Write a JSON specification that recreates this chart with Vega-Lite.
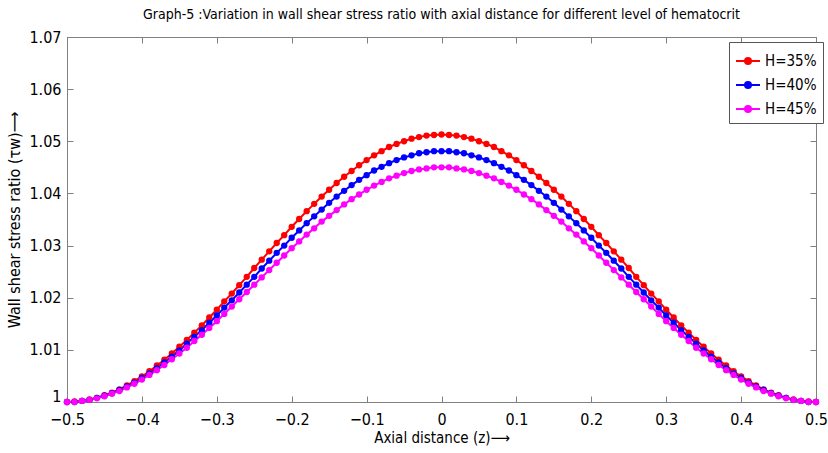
{
"$schema": "https://vega.github.io/schema/vega-lite/v6.json",
"width": 749, "height": 365,
"autosize": {"type": "none"},
"padding": {"left": 67, "top": 37, "right": 12, "bottom": 51},
"background": "white",
"config": {"font": "Liberation Sans Narrow, DejaVu Sans Condensed, sans-serif", "view": {"stroke": "#808080", "strokeWidth": 1}},
"title": {"text": "Graph-5 :Variation in wall shear stress ratio with axial distance for different level of hematocrit", "fontSize": 14, "fontWeight": "normal", "anchor": "middle", "offset": 7, "color": "black"},
"data": {"values": [
{"z":-0.5,"H=35%":1.0000,"H=40%":1.0000,"H=45%":1.0000},
{"z":-0.49,"H=35%":1.0001,"H=40%":1.0000,"H=45%":1.0000},
{"z":-0.48,"H=35%":1.0002,"H=40%":1.0002,"H=45%":1.0002},
{"z":-0.47,"H=35%":1.0005,"H=40%":1.0004,"H=45%":1.0004},
{"z":-0.46,"H=35%":1.0008,"H=40%":1.0008,"H=45%":1.0007},
{"z":-0.45,"H=35%":1.0013,"H=40%":1.0012,"H=45%":1.0011},
{"z":-0.44,"H=35%":1.0018,"H=40%":1.0017,"H=45%":1.0016},
{"z":-0.43,"H=35%":1.0024,"H=40%":1.0023,"H=45%":1.0021},
{"z":-0.42,"H=35%":1.0032,"H=40%":1.0030,"H=45%":1.0028},
{"z":-0.41,"H=35%":1.0040,"H=40%":1.0037,"H=45%":1.0035},
{"z":-0.40,"H=35%":1.0049,"H=40%":1.0046,"H=45%":1.0043},
{"z":-0.39,"H=35%":1.0059,"H=40%":1.0055,"H=45%":1.0052},
{"z":-0.38,"H=35%":1.0070,"H=40%":1.0065,"H=45%":1.0061},
{"z":-0.37,"H=35%":1.0081,"H=40%":1.0076,"H=45%":1.0071},
{"z":-0.36,"H=35%":1.0093,"H=40%":1.0087,"H=45%":1.0082},
{"z":-0.35,"H=35%":1.0106,"H=40%":1.0099,"H=45%":1.0093},
{"z":-0.34,"H=35%":1.0119,"H=40%":1.0112,"H=45%":1.0104},
{"z":-0.33,"H=35%":1.0133,"H=40%":1.0125,"H=45%":1.0117},
{"z":-0.32,"H=35%":1.0147,"H=40%":1.0138,"H=45%":1.0129},
{"z":-0.31,"H=35%":1.0162,"H=40%":1.0152,"H=45%":1.0142},
{"z":-0.30,"H=35%":1.0177,"H=40%":1.0166,"H=45%":1.0155},
{"z":-0.29,"H=35%":1.0193,"H=40%":1.0181,"H=45%":1.0169},
{"z":-0.28,"H=35%":1.0208,"H=40%":1.0195,"H=45%":1.0183},
{"z":-0.27,"H=35%":1.0224,"H=40%":1.0210,"H=45%":1.0197},
{"z":-0.26,"H=35%":1.0240,"H=40%":1.0225,"H=45%":1.0211},
{"z":-0.25,"H=35%":1.0257,"H=40%":1.0240,"H=45%":1.0225},
{"z":-0.24,"H=35%":1.0273,"H=40%":1.0256,"H=45%":1.0239},
{"z":-0.23,"H=35%":1.0289,"H=40%":1.0271,"H=45%":1.0253},
{"z":-0.22,"H=35%":1.0305,"H=40%":1.0286,"H=45%":1.0267},
{"z":-0.21,"H=35%":1.0320,"H=40%":1.0300,"H=45%":1.0281},
{"z":-0.20,"H=35%":1.0336,"H=40%":1.0315,"H=45%":1.0295},
{"z":-0.19,"H=35%":1.0351,"H=40%":1.0329,"H=45%":1.0308},
{"z":-0.18,"H=35%":1.0366,"H=40%":1.0343,"H=45%":1.0321},
{"z":-0.17,"H=35%":1.0380,"H=40%":1.0356,"H=45%":1.0333},
{"z":-0.16,"H=35%":1.0394,"H=40%":1.0369,"H=45%":1.0346},
{"z":-0.15,"H=35%":1.0407,"H=40%":1.0382,"H=45%":1.0357},
{"z":-0.14,"H=35%":1.0420,"H=40%":1.0394,"H=45%":1.0368},
{"z":-0.13,"H=35%":1.0432,"H=40%":1.0405,"H=45%":1.0379},
{"z":-0.12,"H=35%":1.0443,"H=40%":1.0416,"H=45%":1.0389},
{"z":-0.11,"H=35%":1.0454,"H=40%":1.0426,"H=45%":1.0398},
{"z":-0.10,"H=35%":1.0464,"H=40%":1.0435,"H=45%":1.0407},
{"z":-0.09,"H=35%":1.0473,"H=40%":1.0444,"H=45%":1.0415},
{"z":-0.08,"H=35%":1.0481,"H=40%":1.0451,"H=45%":1.0422},
{"z":-0.07,"H=35%":1.0489,"H=40%":1.0458,"H=45%":1.0429},
{"z":-0.06,"H=35%":1.0495,"H=40%":1.0464,"H=45%":1.0434},
{"z":-0.05,"H=35%":1.0500,"H=40%":1.0469,"H=45%":1.0439},
{"z":-0.04,"H=35%":1.0505,"H=40%":1.0473,"H=45%":1.0443},
{"z":-0.03,"H=35%":1.0508,"H=40%":1.0477,"H=45%":1.0446},
{"z":-0.02,"H=35%":1.0511,"H=40%":1.0479,"H=45%":1.0448},
{"z":-0.01,"H=35%":1.0512,"H=40%":1.0481,"H=45%":1.0450},
{"z":0,"H=35%":1.0513,"H=40%":1.0481,"H=45%":1.0450},
{"z":0.01,"H=35%":1.0512,"H=40%":1.0481,"H=45%":1.0450},
{"z":0.02,"H=35%":1.0511,"H=40%":1.0479,"H=45%":1.0448},
{"z":0.03,"H=35%":1.0508,"H=40%":1.0477,"H=45%":1.0446},
{"z":0.04,"H=35%":1.0505,"H=40%":1.0473,"H=45%":1.0443},
{"z":0.05,"H=35%":1.0500,"H=40%":1.0469,"H=45%":1.0439},
{"z":0.06,"H=35%":1.0495,"H=40%":1.0464,"H=45%":1.0434},
{"z":0.07,"H=35%":1.0489,"H=40%":1.0458,"H=45%":1.0429},
{"z":0.08,"H=35%":1.0481,"H=40%":1.0451,"H=45%":1.0422},
{"z":0.09,"H=35%":1.0473,"H=40%":1.0444,"H=45%":1.0415},
{"z":0.10,"H=35%":1.0464,"H=40%":1.0435,"H=45%":1.0407},
{"z":0.11,"H=35%":1.0454,"H=40%":1.0426,"H=45%":1.0398},
{"z":0.12,"H=35%":1.0443,"H=40%":1.0416,"H=45%":1.0389},
{"z":0.13,"H=35%":1.0432,"H=40%":1.0405,"H=45%":1.0379},
{"z":0.14,"H=35%":1.0420,"H=40%":1.0394,"H=45%":1.0368},
{"z":0.15,"H=35%":1.0407,"H=40%":1.0382,"H=45%":1.0357},
{"z":0.16,"H=35%":1.0394,"H=40%":1.0369,"H=45%":1.0346},
{"z":0.17,"H=35%":1.0380,"H=40%":1.0356,"H=45%":1.0333},
{"z":0.18,"H=35%":1.0366,"H=40%":1.0343,"H=45%":1.0321},
{"z":0.19,"H=35%":1.0351,"H=40%":1.0329,"H=45%":1.0308},
{"z":0.20,"H=35%":1.0336,"H=40%":1.0315,"H=45%":1.0295},
{"z":0.21,"H=35%":1.0320,"H=40%":1.0300,"H=45%":1.0281},
{"z":0.22,"H=35%":1.0305,"H=40%":1.0286,"H=45%":1.0267},
{"z":0.23,"H=35%":1.0289,"H=40%":1.0271,"H=45%":1.0253},
{"z":0.24,"H=35%":1.0273,"H=40%":1.0256,"H=45%":1.0239},
{"z":0.25,"H=35%":1.0257,"H=40%":1.0240,"H=45%":1.0225},
{"z":0.26,"H=35%":1.0240,"H=40%":1.0225,"H=45%":1.0211},
{"z":0.27,"H=35%":1.0224,"H=40%":1.0210,"H=45%":1.0197},
{"z":0.28,"H=35%":1.0208,"H=40%":1.0195,"H=45%":1.0183},
{"z":0.29,"H=35%":1.0193,"H=40%":1.0181,"H=45%":1.0169},
{"z":0.30,"H=35%":1.0177,"H=40%":1.0166,"H=45%":1.0155},
{"z":0.31,"H=35%":1.0162,"H=40%":1.0152,"H=45%":1.0142},
{"z":0.32,"H=35%":1.0147,"H=40%":1.0138,"H=45%":1.0129},
{"z":0.33,"H=35%":1.0133,"H=40%":1.0125,"H=45%":1.0117},
{"z":0.34,"H=35%":1.0119,"H=40%":1.0112,"H=45%":1.0104},
{"z":0.35,"H=35%":1.0106,"H=40%":1.0099,"H=45%":1.0093},
{"z":0.36,"H=35%":1.0093,"H=40%":1.0087,"H=45%":1.0082},
{"z":0.37,"H=35%":1.0081,"H=40%":1.0076,"H=45%":1.0071},
{"z":0.38,"H=35%":1.0070,"H=40%":1.0065,"H=45%":1.0061},
{"z":0.39,"H=35%":1.0059,"H=40%":1.0055,"H=45%":1.0052},
{"z":0.40,"H=35%":1.0049,"H=40%":1.0046,"H=45%":1.0043},
{"z":0.41,"H=35%":1.0040,"H=40%":1.0037,"H=45%":1.0035},
{"z":0.42,"H=35%":1.0032,"H=40%":1.0030,"H=45%":1.0028},
{"z":0.43,"H=35%":1.0024,"H=40%":1.0023,"H=45%":1.0021},
{"z":0.44,"H=35%":1.0018,"H=40%":1.0017,"H=45%":1.0016},
{"z":0.45,"H=35%":1.0013,"H=40%":1.0012,"H=45%":1.0011},
{"z":0.46,"H=35%":1.0008,"H=40%":1.0008,"H=45%":1.0007},
{"z":0.47,"H=35%":1.0005,"H=40%":1.0004,"H=45%":1.0004},
{"z":0.48,"H=35%":1.0002,"H=40%":1.0002,"H=45%":1.0002},
{"z":0.49,"H=35%":1.0001,"H=40%":1.0000,"H=45%":1.0000},
{"z":0.5,"H=35%":1.0000,"H=40%":1.0000,"H=45%":1.0000}
]},
"transform": [{"fold": ["H=35%", "H=40%", "H=45%"], "as": ["series", "value"]}],
"layer": [
{
"mark": {"type": "line", "strokeWidth": 2, "point": {"filled": true, "size": 40}},
"encoding": {
"x": {"field": "z", "type": "quantitative", "scale": {"domain": [-0.5, 0.5], "nice": false},
 "axis": {"values": [-0.5,-0.4,-0.3,-0.2,-0.1,0,0.1,0.2,0.3,0.4,0.5], "format": "~g", "labelFlush": false, "grid": false, "domainColor": "#808080", "tickColor": "#808080", "tickSize": -6, "labelPadding": 15, "labelFontSize": 16, "labelColor": "black", "title": "Axial distance (z)⟶", "titleFontSize": 15, "titleFontWeight": "normal", "titleColor": "black", "titlePadding": 3}},
"y": {"field": "value", "type": "quantitative", "scale": {"domain": [1, 1.07], "nice": false, "zero": false},
 "axis": {"values": [1,1.01,1.02,1.03,1.04,1.05,1.06,1.07], "format": "~g", "labelFlush": false, "grid": false, "domainColor": "#808080", "tickColor": "#808080", "tickSize": -6, "labelPadding": 12, "labelFontSize": 16, "labelColor": "black", "title": "Wall shear stress ratio (τw)⟶", "titleFontSize": 16, "titleFontWeight": "normal", "titleColor": "black", "titlePadding": 6,
  "labelOffset": {"condition": {"test": "datum.value == 1", "value": -6}, "value": 0}}},
"color": {"field": "series", "type": "nominal", "scale": {"domain": ["H=35%", "H=40%", "H=45%"], "range": ["#ff0000", "#0000ff", "#ff00ff"]},
 "legend": {"title": null, "orient": "none", "legendX": 662, "legendY": 5, "strokeColor": "#555", "fillColor": "white", "padding": 6, "labelFontSize": 15, "labelColor": "black", "labelOffset": 4, "symbolType": "M-1,0L1,0M0.25,0A0.25,0.25,0,1,1,-0.25,0A0.25,0.25,0,1,1,0.25,0Z", "symbolSize": 576, "symbolStrokeWidth": 2, "rowPadding": 3,
  "encode": {"symbols": {"update": {"fill": {"scale": "color", "field": "value"}, "stroke": {"scale": "color", "field": "value"}, "opacity": {"value": 1}}}}}}
}
},
{
"mark": {"type": "point", "opacity": 0},
"encoding": {
"x": {"field": "z", "type": "quantitative", "scale": {"domain": [-0.5, 0.5], "nice": false},
 "axis": {"orient": "top", "values": [-0.5,-0.4,-0.3,-0.2,-0.1,0,0.1,0.2,0.3,0.4,0.5], "labels": false, "grid": false, "domainColor": "#808080", "tickColor": "#808080", "tickSize": -6, "title": null}},
"y": {"field": "value", "type": "quantitative", "scale": {"domain": [1, 1.07], "nice": false, "zero": false},
 "axis": {"orient": "right", "values": [1,1.01,1.02,1.03,1.04,1.05,1.06,1.07], "labels": false, "grid": false, "domainColor": "#808080", "tickColor": "#808080", "tickSize": -6, "title": null}}
}
}
],
"resolve": {"scale": {"x": "independent", "y": "independent"}}
}
